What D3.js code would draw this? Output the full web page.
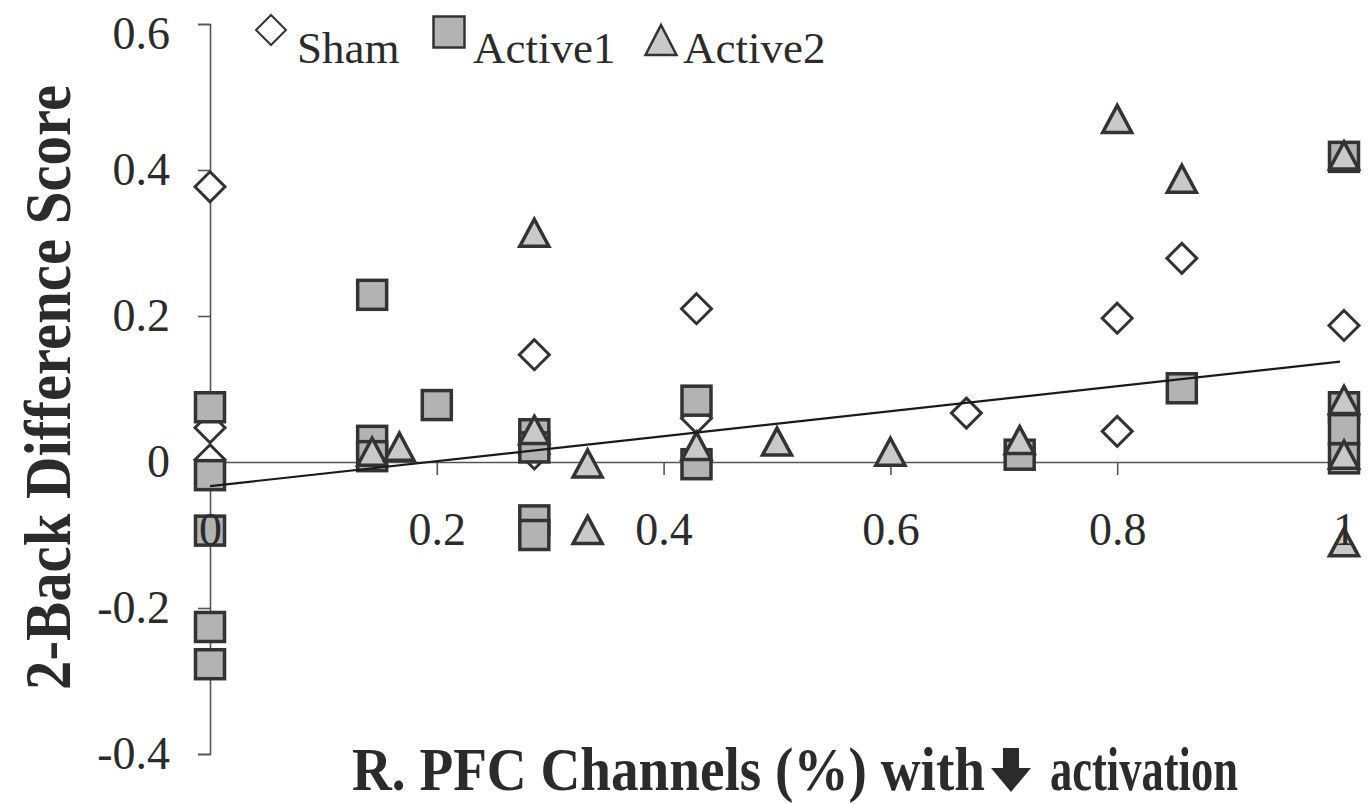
<!DOCTYPE html>
<html>
<head>
<meta charset="utf-8">
<script src="https://cdn.jsdelivr.net/npm/d3@7"></script>
<style>
  body { margin: 0; background: #fff; }
  text { font-family: "Liberation Serif", "Times New Roman", serif; fill: #2b2b2b; }
</style>
</head>
<body>
<script>
// values
var shamX = [0, 0, 0, 0.286, 0.286, 0.429, 0.429, 0.667, 0.8, 0.8, 0.857, 1];
var shamY = [0.377, 0.047, 0.003, 0.147, 0.011, 0.21, 0.06, 0.067, 0.197, 0.042, 0.279, 0.187];

var active1X = [0, 0, 0, 0, 0, 0.143, 0.143, 0.143, 0.2, 0.286, 0.286, 0.286, 0.286, 0.429, 0.429, 0.714, 0.857, 1, 1, 1, 1];
var active1Y = [0.075, -0.018, -0.094, -0.226, -0.277, 0.229, 0.029, 0.008, 0.078, 0.038, 0.02, -0.08, -0.1, 0.084, -0.003, 0.01, 0.101, 0.418, 0.075, 0.045, 0.005];

var active2X = [0.143, 0.167, 0.286, 0.286, 0.333, 0.333, 0.429, 0.5, 0.6, 0.714, 0.8, 0.857, 1, 1, 1, 1];
var active2Y = [0.014, 0.021, 0.314, 0.044, -0.002, -0.093, 0.022, 0.028, 0.014, 0.03, 0.47, 0.388, 0.42, 0.085, 0.01, -0.11];

var trendX = [0, 1];
var trendY = [-0.033, 0.138];

var xTicks = [0, 0.2, 0.4, 0.6, 0.8, 1];
var yTicks = [-0.4, -0.2, 0, 0.2, 0.4, 0.6];
var legendNames = ["Sham", "Active1", "Active2"];

var W = 1368, H = 804;
var svg = d3.select("body").append("svg").attr("width", W).attr("height", H);

var x = d3.scaleLinear().domain([0, 1]).range([210, 1344]);
var y = d3.scaleLinear().domain([-0.4, 0.6]).range([754, 24]);

var fmt = function(d) { return d === 0 ? "0" : String(d).replace("\u2212", "-"); };

// axis lines first, markers cover them
var yAxisG = svg.append("g").attr("transform", "translate(" + x(0) + ",0)")
  .call(d3.axisLeft(y).tickValues(yTicks).tickSize(12).tickSizeOuter(12).tickFormat(""));
var xAxisG = svg.append("g").attr("transform", "translate(0," + y(0) + ")")
  .call(d3.axisBottom(x).tickValues(xTicks.slice(1, 5)).tickSize(13).tickSizeOuter(0).tickFormat(""));
svg.selectAll(".domain, .tick line").attr("stroke", "#555").attr("stroke-width", 1.6);

// markers
var shamData = shamX.map(function(v, i) { return [v, shamY[i]]; });
var a1Data = active1X.map(function(v, i) { return [v, active1Y[i]]; });
var a2Data = active2X.map(function(v, i) { return [v, active2Y[i]]; });

function diamond(g, cx, cy, r, sw) {
  g.append("path")
    .attr("d", "M" + cx + "," + (cy - r) + "L" + (cx + r) + "," + cy + "L" + cx + "," + (cy + r) + "L" + (cx - r) + "," + cy + "Z")
    .attr("fill", "#fff").attr("stroke", "#333").attr("stroke-width", sw);
}
function square(g, cx, cy, s, sw) {
  g.append("rect").attr("x", cx - s / 2).attr("y", cy - s / 2).attr("width", s).attr("height", s)
    .attr("fill", "#b3b3b3").attr("stroke", "#333").attr("stroke-width", sw);
}
function triangle(g, cx, cy, w, h, sw) {
  g.append("path")
    .attr("d", "M" + cx + "," + (cy - h / 2) + "L" + (cx + w / 2) + "," + (cy + h / 2) + "L" + (cx - w / 2) + "," + (cy + h / 2) + "Z")
    .attr("fill", "#c9c9c9").attr("stroke", "#333").attr("stroke-width", sw).attr("stroke-linejoin", "miter");
}

var marks = svg.append("g");
shamData.forEach(function(d) { diamond(marks, x(d[0]), y(d[1]), 15, 3); });
a1Data.forEach(function(d) { square(marks, x(d[0]), y(d[1]), 29, 3.5); });
a2Data.forEach(function(d) { triangle(marks, x(d[0]), y(d[1]), 29, 27, 3.5); });

// trend line
svg.append("line")
  .attr("x1", x(trendX[0])).attr("y1", y(trendY[0]))
  .attr("x2", x(trendX[1]) - 4).attr("y2", y(trendY[0] + (trendY[1] - trendY[0]) * (1 - 4 / 1134)))
  .attr("stroke", "#1a1a1a").attr("stroke-width", 2.2);

// tick labels on top of markers
var yLab = svg.append("g").attr("transform", "translate(" + x(0) + ",0)")
  .call(d3.axisLeft(y).tickValues(yTicks).tickSize(12).tickPadding(28).tickFormat(fmt));
yLab.select(".domain").remove();
yLab.selectAll(".tick line").remove();
yLab.selectAll("text").attr("font-size", 46).attr("font-family", "Liberation Serif").attr("fill", "#2b2b2b")
  .attr("y", function(d) { return d === 0.6 ? 10 : 0; });

var xLab = svg.append("g").attr("transform", "translate(0," + y(0) + ")")
  .call(d3.axisBottom(x).tickValues(xTicks).tickSize(13).tickPadding(37).tickFormat(fmt));
xLab.select(".domain").remove();
xLab.selectAll(".tick line").remove();
xLab.selectAll("text").attr("font-size", 46).attr("font-family", "Liberation Serif").attr("fill", "#2b2b2b");

// legend
var leg = svg.append("g");
diamond(leg, 271, 30, 15, 2);
square(leg, 449, 32, 31, 2.5);
triangle(leg, 661, 40, 31, 30, 2.5);
leg.append("text").attr("x", 297).attr("y", 63).attr("font-size", 45).text(legendNames[0]);
leg.append("text").attr("x", 473).attr("y", 63).attr("font-size", 45).text(legendNames[1]);
leg.append("text").attr("x", 683).attr("y", 63).attr("font-size", 45).text(legendNames[2]);

// axis titles
svg.append("text")
  .attr("transform", "translate(70,690) rotate(-90)")
  .attr("font-size", 66).attr("font-weight", "bold")
  .attr("textLength", 605).attr("lengthAdjust", "spacingAndGlyphs")
  .text("2-Back Difference Score");

svg.append("text").attr("x", 352).attr("y", 790)
  .attr("font-size", 62).attr("font-weight", "bold")
  .attr("textLength", 633).attr("lengthAdjust", "spacingAndGlyphs")
  .text("R. PFC Channels (%) with");
svg.append("path")
  .attr("d", "M1003,748 L1019,748 L1019,768 L1031,768 L1011,792 L991,768 L1003,768 Z")
  .attr("fill", "#2b2b2b");
svg.append("text").attr("x", 1050).attr("y", 790)
  .attr("font-size", 62).attr("font-weight", "bold")
  .attr("textLength", 188).attr("lengthAdjust", "spacingAndGlyphs")
  .text("activation");
</script>
</body>
</html>
